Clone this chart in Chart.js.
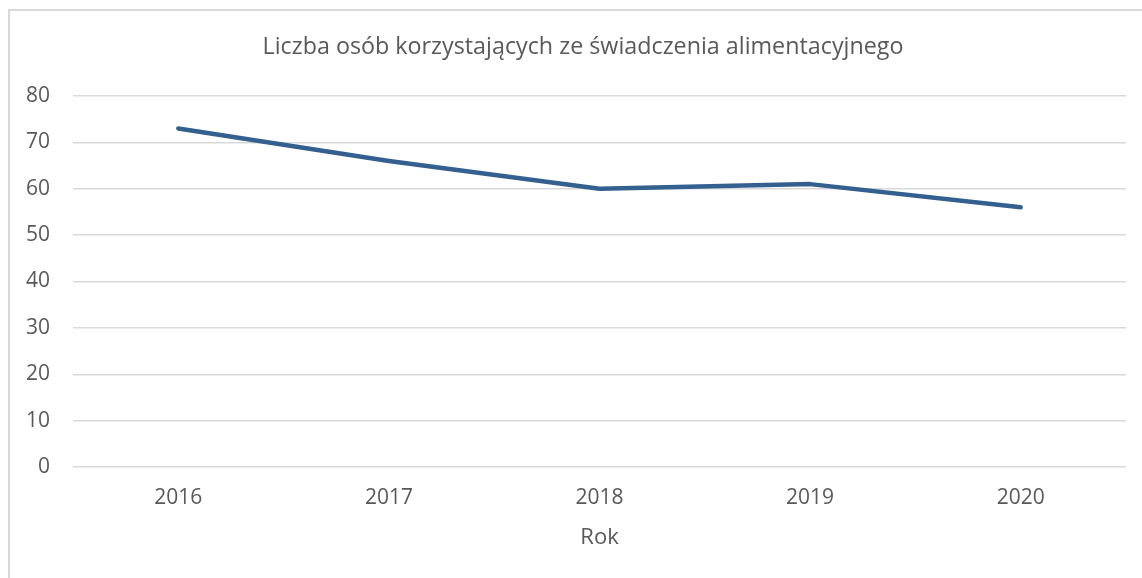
<!DOCTYPE html>
<html lang="pl">
<head>
<meta charset="utf-8">
<title>Liczba osób korzystających ze świadczenia alimentacyjnego</title>
<script src="https://cdn.jsdelivr.net/npm/chart.js@4/dist/chart.umd.min.js"></script>
<style>
  html, body { margin: 0; padding: 0; background: #fff; overflow: hidden; }
  #wrap { position: relative; width: 1142px; height: 578px; }
  #frame {
    position: absolute; left: 8px; top: 9px; width: 1300px; height: 700px;
    border: 2px solid #d9d9d9; box-sizing: border-box;
  }
  #chart { position: absolute; left: 0; top: 0; }
</style>
</head>
<body>
<div id="wrap">
  <div id="frame"></div>
  <canvas id="chart" width="1142" height="578"></canvas>
</div>
<script>
const years = ["2016", "2017", "2018", "2019", "2020"];
const persons = [73, 66, 60, 61, 56];
const yTicks = [0, 10, 20, 30, 40, 50, 60, 70, 80];
const chartTitle = "Liczba osób korzystających ze świadczenia alimentacyjnego";

const textColor = "#595959";
const gridColor = "#d9d9d9";
const fontFamily = "'Open Sans', 'Noto Sans', sans-serif";

// title centred on the frame rather than on the canvas
const frameTitle = {
  id: "frameTitle",
  afterDraw(chart) {
    const c = chart.ctx;
    c.save();
    c.font = `23.3px ${fontFamily}`;
    c.fillStyle = textColor;
    c.textAlign = "center";
    c.textBaseline = "middle";
    c.fillText(chartTitle, 583, 47);
    c.restore();
  }
};

const canvas = document.getElementById("chart");

if (canvas && window.Chart) {
  const ctx = canvas.getContext("2d");

  new Chart(ctx, {
    type: "line",
    data: {
      labels: years,
      datasets: [
        {
          label: "Liczba osób",
          data: persons,
          borderColor: "#33608f",
          borderWidth: 4.5,
          borderCapStyle: "round",
          borderJoinStyle: "round",
          pointRadius: 0,
          tension: 0,
          fill: false
        }
      ]
    },
    plugins: [frameTitle],
    options: {
      responsive: false,
      animation: false,
      layout: { padding: { top: 96, right: 16, bottom: 0, left: 0 } },
      plugins: {
        legend: { display: false },
        tooltip: { enabled: false },
        title: { display: false }
      },
      scales: {
        x: {
          offset: true,
          grid: { display: false, drawTicks: false },
          border: { display: false },
          ticks: {
            color: textColor,
            font: { family: fontFamily, size: 21 },
            padding: 18,
            maxRotation: 0
          },
          title: {
            display: true,
            text: "Rok",
            color: textColor,
            font: { family: fontFamily, size: 22 },
            padding: { top: 0, bottom: 27 }
          },
          afterFit(scale) { scale.height = 111; }
        },
        y: {
          min: 0,
          max: 80,
          afterBuildTicks(scale) { scale.ticks = yTicks.map((v) => ({ value: v })); },
          grid: { color: gridColor, lineWidth: 1.5, drawTicks: false },
          border: { display: false },
          ticks: {
            color: textColor,
            font: { family: fontFamily, size: 21 },
            padding: 23
          },
          afterFit(scale) { scale.width = 73; }
        }
      }
    }
  });
}
</script>
</body>
</html>
